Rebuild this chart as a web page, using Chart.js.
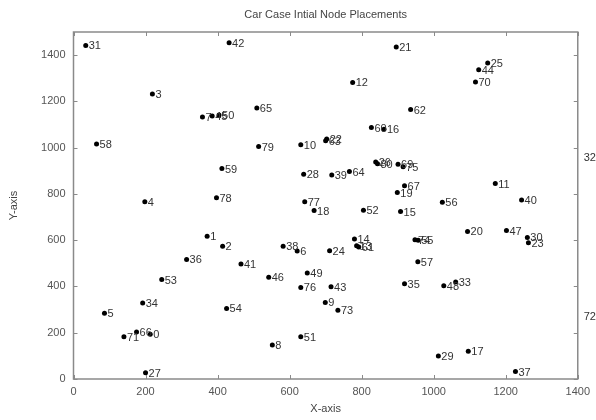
<!DOCTYPE html>
<html>
<head>
<meta charset="utf-8">
<script src="https://cdn.jsdelivr.net/npm/chart.js@4/dist/chart.umd.min.js"></script>
<style>
  html, body { margin: 0; padding: 0; background: #fff; }
  #wrap { width: 596px; height: 420px; }
</style>
</head>
<body>
<div id="wrap"><canvas id="chart" width="596" height="420"></canvas></div>
<script>
// node ids and their positions
const nodeIds = ['31','42','3','7','45','50','65','58','79','10','59','28','4','78','77',
  '21','25','44','70','12','62','60','16','22','63','26','80','69','75','39','64','67','19',
  '11','40','56','32','18','1','2','38','6','36','41','53','46','49','76','34','5','54','9',
  '71','66','0','51','8','27','52','15','20','47','30','23','14','13','61','74','55','24',
  '57','43','35','48','33','73','29','17','37','72'];
const nodeX = [34,432,219,358,385,404,509,64,514,631,412,639,198,397,642,
  896,1150,1125,1116,775,936,827,862,703,700,839,844,901,915,717,766,919,899,
  1171,1244,1024,1408,668,371,414,582,621,314,465,245,542,649,631,192,86,425,699,
  140,175,213,631,552,200,805,908,1094,1202,1260,1263,780,786,792,948,957,711,
  956,715,919,1028,1061,734,1013,1096,1227,1408];
const nodeY = [1442,1454,1232,1133,1137,1141,1171,1016,1005,1013,910,885,766,783,766,
  1435,1366,1337,1284,1282,1165,1087,1080,1038,1030,938,931,928,917,882,897,835,806,
  845,774,764,958,728,617,574,574,553,517,497,430,440,458,396,328,284,305,331,
  183,203,193,183,147,27,730,724,638,642,612,589,605,576,571,602,600,554,
  507,399,412,403,419,297,99,120,32,272];

const xTicks = [0, 200, 400, 600, 800, 1000, 1200, 1400];
const yTicks = [0, 200, 400, 600, 800, 1000, 1200, 1400];

const chartTitle = 'Car Case Intial Node Placements';
const xTitle = 'X-axis';
const yTitle = 'Y-axis';

const FONT = '"Liberation Sans", Arial, sans-serif';

const points = nodeIds.map((id, i) => ({ x: nodeX[i], y: nodeY[i], id: id }));

// frame, inward ticks on all four sides, titles and node labels
const decorPlugin = {
  id: 'decor',
  afterDraw(chart) {
    const ctx = chart.ctx;
    const a = chart.chartArea;
    const xs = chart.scales.x, ys = chart.scales.y;
    ctx.save();

    // node labels (not clipped, like the original)
    ctx.fillStyle = '#333';
    ctx.font = '11px ' + FONT;
    ctx.textAlign = 'left';
    ctx.textBaseline = 'middle';
    chart.getDatasetMeta(0).data.forEach((el, i) => {
      ctx.fillText(points[i].id, el.x + 3, el.y + 1);
    });

    // frame
    ctx.strokeStyle = '#8a8a8a';
    ctx.lineWidth = 1.5;
    ctx.strokeRect(a.left, a.top, a.right - a.left, a.bottom - a.top);

    // ticks
    ctx.lineWidth = 1;
    const len = 4;
    ctx.beginPath();
    xTicks.forEach(v => {
      const px = Math.round(xs.getPixelForValue(v)) + 0.5;
      ctx.moveTo(px, a.bottom); ctx.lineTo(px, a.bottom - len);
      ctx.moveTo(px, a.top); ctx.lineTo(px, a.top + len);
    });
    yTicks.forEach(v => {
      const py = Math.round(ys.getPixelForValue(v)) + 0.5;
      ctx.moveTo(a.left, py); ctx.lineTo(a.left + len, py);
      ctx.moveTo(a.right, py); ctx.lineTo(a.right - len, py);
    });
    ctx.stroke();

    // titles
    ctx.fillStyle = '#444';
    ctx.font = '11px ' + FONT;
    ctx.textAlign = 'center';
    ctx.textBaseline = 'middle';
    const cx = (a.left + a.right) / 2;
    ctx.fillText(chartTitle, cx, 15);
    ctx.fillText(xTitle, cx, 409);
    ctx.translate(14, (a.top + a.bottom) / 2);
    ctx.rotate(-Math.PI / 2);
    ctx.fillText(yTitle, 0, 0);
    ctx.restore();
  }
};

new Chart(document.getElementById('chart'), {
  type: 'scatter',
  data: {
    datasets: [{
      data: points,
      backgroundColor: '#000',
      borderColor: '#000',
      pointRadius: 2.5,
      pointHoverRadius: 2.5,
      borderWidth: 0
    }]
  },
  options: {
    responsive: false,
    animation: false,
    events: [],
    layout: { padding: { top: 32, right: 14, left: 0, bottom: 0 } },
    plugins: {
      legend: { display: false },
      tooltip: { enabled: false },
      title: { display: false }
    },
    scales: {
      x: {
        type: 'linear',
        min: 0, max: 1400,
        afterBuildTicks: s => { s.ticks = xTicks.map(v => ({ value: v })); },
        afterFit: s => { s.height = 41; },
        grid: { display: false, drawTicks: false },
        border: { display: false },
        ticks: { color: '#555', font: { family: FONT, size: 11 }, padding: 6, maxRotation: 0,
                 callback: v => String(v) }
      },
      y: {
        type: 'linear',
        min: 0, max: 1500,
        afterBuildTicks: s => { s.ticks = yTicks.map(v => ({ value: v })); },
        afterFit: s => { s.width = 73.5; },
        grid: { display: false, drawTicks: false },
        border: { display: false },
        ticks: { color: '#555', font: { family: FONT, size: 11 }, padding: 8,
                 callback: v => String(v) }
      }
    }
  },
  plugins: [decorPlugin]
});
</script>
</body>
</html>
